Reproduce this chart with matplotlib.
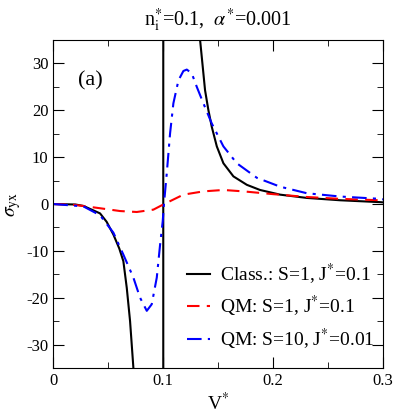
import matplotlib.pyplot as plt
from matplotlib.ticker import MultipleLocator

plt.rcParams['font.family'] = ['Liberation Serif', 'DejaVu Serif']
plt.rcParams['mathtext.fontset'] = 'stix'
plt.rcParams['axes.unicode_minus'] = False

# classical, S=1, J*=0.1 (goes off scale near 0.073, jump at V*=0.1)
v_class = [0.0, 0.02, 0.0273, 0.0425, 0.0485, 0.0546, 0.0600, 0.0637, 0.0668, 0.0698, 0.0728,
           0.076, 0.1, 0.1, 0.130, 0.1335, 0.1359, 0.138, 0.141, 0.1441, 0.1487, 0.1547,
           0.1638, 0.1699, 0.176, 0.188, 0.2063, 0.2306, 0.2609, 0.2973, 0.3]
s_class = [0.0, -0.1, -0.4, -2.0, -3.8, -6.5, -9.5, -12.2, -17.9, -25.0, -34.9,
           -50, -300, 300, 45, 35, 29.3, 24.3, 20.1, 16.5, 12.3, 8.7,
           5.9, 5.0, 4.1, 3.0, 2.0, 1.3, 0.8, 0.4, 0.35]

# QM, S=1, J*=0.1
v_qm1 = [0.0, 0.02, 0.0425, 0.0607, 0.0759, 0.091, 0.1, 0.1183, 0.1365, 0.1547,
         0.1729, 0.2002, 0.2306, 0.2609, 0.2973, 0.3]
s_qm1 = [0.0, -0.2, -0.9, -1.5, -1.7, -1.2, -0.1, 2.0, 2.7, 3.0,
         2.7, 2.1, 1.5, 1.1, 0.8, 0.75]

# QM, S=10, J*=0.01
v_qm10 = [0.0, 0.0273, 0.0425, 0.0546, 0.0637, 0.0728, 0.0789, 0.085, 0.0895, 0.0941,
          0.0971, 0.0995, 0.1007, 0.1032, 0.1062, 0.1092, 0.1138, 0.1183, 0.1214, 0.1259,
          0.1305, 0.1365, 0.1441, 0.1547, 0.1669, 0.1851, 0.2063, 0.2306, 0.2609, 0.2973, 0.3]
s_qm10 = [0.0, -0.5, -2.4, -6.1, -10.8, -15.7, -20.0, -22.8, -21.4, -15.7,
          -8.7, -3.7, 0.2, 6.6, 15.1, 21.5, 26.4, 28.4, 28.7, 27.9,
          25.0, 21.5, 17.2, 12.3, 8.7, 5.6, 3.7, 2.3, 1.6, 1.1, 1.0]

fig = plt.figure(figsize=(3.95, 4.13), dpi=100)
ax = fig.add_axes([0.135, 0.109, 0.835, 0.794])

ax.plot(v_class, s_class, color='black', lw=1.5, label=r'Class.: S=1, J$^{*}$=0.1')
ax.plot(v_qm1, s_qm1, color='red', lw=1.5, dashes=(6, 3.5), label=r'QM: S=1, J$^{*}$=0.1')
ax.plot(v_qm10, s_qm10, color='blue', lw=1.5, dashes=(7, 3, 1.5, 3), label=r'QM: S=10, J$^{*}$=0.01')

ax.set_xlim(0, 0.3)
ax.set_ylim(-35, 35)
ax.xaxis.set_minor_locator(MultipleLocator(0.05))
ax.yaxis.set_major_locator(MultipleLocator(10))
ax.yaxis.set_minor_locator(MultipleLocator(5))
ax.set_xticks([0, 0.1, 0.2, 0.3])
ax.set_xticklabels(['0', '0.1', '0.2', '0.3'])
ax.tick_params(which='both', direction='in', top=True, right=True, labelsize=12)
ax.tick_params(which='major', length=8)
ax.tick_params(which='minor', length=4)

ax.set_xlabel(r'V$^{*}$', fontsize=14, labelpad=2)
ax.set_ylabel(r'$\sigma_{\rm yx}$', fontsize=14, labelpad=2)
ax.set_title(r'n$_{\rm i}^{*}$=0.1,  $\alpha^{*}$=0.001', fontsize=14.5, pad=10)
ax.text(0.075, 0.86, '(a)', transform=ax.transAxes, fontsize=16)

ax.legend(loc='upper left', bbox_to_anchor=(0.405, 0.325), frameon=False, fontsize=14,
          handlelength=1.2, handletextpad=0.5, labelspacing=0.4, borderpad=0, borderaxespad=0)

fig.savefig('out.png', dpi=100)
